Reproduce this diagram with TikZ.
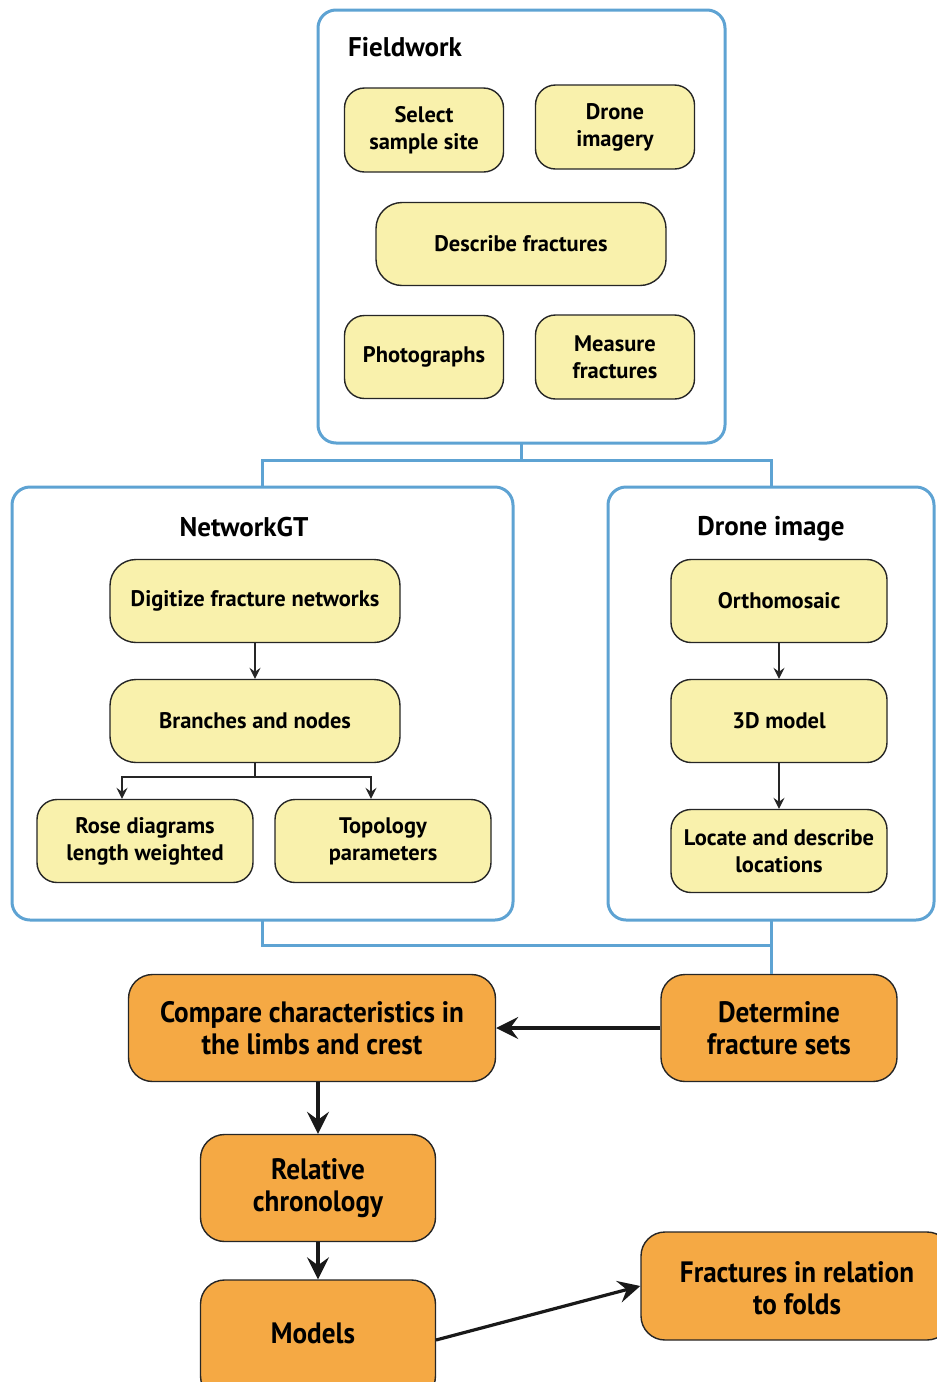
\documentclass[tikz,border=0pt]{standalone}
\usepackage{fontspec}
\setmainfont{PT Sans}
\newfontfamily\condfont{PT Sans}[FakeStretch=0.92]
\usetikzlibrary{arrows.meta}
\definecolor{ybox}{HTML}{F9F1AC}
\definecolor{obox}{HTML}{F5A944}
\definecolor{bframe}{HTML}{5EA3D3}
\begin{document}
\begin{tikzpicture}[x=1pt,y=-1pt,
  frame/.style={draw=bframe,line width=3pt,rounded corners=18pt},
  bline/.style={draw=bframe,line width=3pt},
  ybx/.style={draw=black!85,line width=1.4pt,fill=ybox,rounded corners=20pt,align=center,
     font=\fontsize{22.5}{27}\selectfont\bfseries,inner sep=0pt},
  obx/.style={draw=black!85,line width=1.4pt,fill=obox,rounded corners=24pt,align=center,
     font=\condfont\fontsize{29.5}{32}\selectfont\bfseries,inner sep=0pt},
  ttl/.style={font=\fontsize{27}{30}\selectfont\bfseries,inner sep=0pt},
  thin/.style={draw=black!85,line width=1.3pt,-{Stealth[length=11pt,width=11pt,inset=4pt]}},
  thick/.style={draw=black!90,line width=3.2pt,-{Stealth[length=22pt,width=22pt,inset=8pt]}}]
\useasboundingbox (0,0) rectangle (937,1382);
\clip (0,0) rectangle (937,1382);
\fill[white] (0,0) rectangle (937,1382);

% frames
\draw[frame] (318,10) rectangle (725,443);
\node[ttl,anchor=west] (tfw) at (348,47) {Fieldwork};
\draw[frame] (12,487) rectangle (513,920);
\node[ttl] (tng) at (244,527) {NetworkGT};
\draw[frame] (608,487) rectangle (934,920);
\node[ttl] (tdi) at (771,529) {Drone image};

\coordinate (fwb) at (521,443);
\coordinate (ngt) at (262,487);
\coordinate (dit) at (771,487);
\coordinate (ngb) at (262,920);
\coordinate (dib) at (771,920);

% fieldwork boxes
\node[ybx,minimum width=159pt,minimum height=84pt] (sel) at (424,130) {Select\\sample site};
\node[ybx,minimum width=159pt,minimum height=84pt] (dri) at (615,127) {Drone\\imagery};
\node[ybx,minimum width=290pt,minimum height=83pt,rounded corners=26pt] (desc) at (521,244) {Describe fractures};
\node[ybx,minimum width=159pt,minimum height=83pt] (pho) at (424,357) {Photographs};
\node[ybx,minimum width=159pt,minimum height=84pt] (mea) at (615,357) {Measure\\fractures};

% NetworkGT boxes
\node[ybx,minimum width=290pt,minimum height=83pt,rounded corners=26pt] (dig) at (255,601) {Digitize fracture networks};
\node[ybx,minimum width=290pt,minimum height=83pt,rounded corners=26pt] (bra) at (255,721) {Branches and nodes};
\node[ybx,minimum width=216pt,minimum height=83pt] (rose) at (145,841) {Rose diagrams\\length weighted};
\node[ybx,minimum width=216pt,minimum height=83pt] (topo) at (383,841) {Topology\\parameters};

% Drone image boxes
\node[ybx,minimum width=216pt,minimum height=83pt] (orth) at (779,601) {Orthomosaic};
\node[ybx,minimum width=216pt,minimum height=83pt] (mod3) at (779,721) {3D model};
\node[ybx,minimum width=216pt,minimum height=83pt] (loc) at (779,851) {Locate and describe\\locations};

% orange boxes
\node[obx,minimum width=367pt,minimum height=107pt] (cmp) at (312,1028) {Compare characteristics in\\the limbs and crest};
\node[obx,minimum width=236pt,minimum height=107pt] (det) at (779,1028) {Determine\\fracture sets};
\node[obx,minimum width=235pt,minimum height=107pt] (rel) at (318,1188) {Relative\\chronology};
\node[obx,minimum width=235pt,minimum height=120pt] (mods) at (318,1340) {};
\node[obx,draw=none,fill=none] (modt) at (313,1333) {Models};
\node[obx,minimum width=310pt,minimum height=108pt] (frf) at (796,1286) {};
\node[obx,draw=none,fill=none] (frft) at (797,1288) {Fractures in relation\\to folds};

% blue connectors
\draw[bline] (fwb) -- (521,460);
\draw[bline] (ngt) -- (262,460) -- (771,460) -- (dit);
\draw[bline] (ngb) -- (262,945) -- (771,945);
\draw[bline] (dib) -- (det.north -| dib);

% thin arrows
\draw[thin] (dig.south) -- (bra.north);
\draw[thin] (bra.south) -- (255,777) -- (122,777) -- (rose.north -| 122,0);
\draw[thin] (255,777) -- (371,777) -- (topo.north -| 371,0);
\draw[thin] (orth.south) -- (mod3.north);
\draw[thin] (mod3.south) -- (loc.north);

% thick arrows
\draw[thick] (det.west) -- (cmp.east);
\draw[thick] (cmp.south -| rel.north) -- (rel.north);
\draw[thick] (rel.south) -- (mods.north);
\draw[thick] (436,1340) -- (frf.west);
\end{tikzpicture}
\end{document}
